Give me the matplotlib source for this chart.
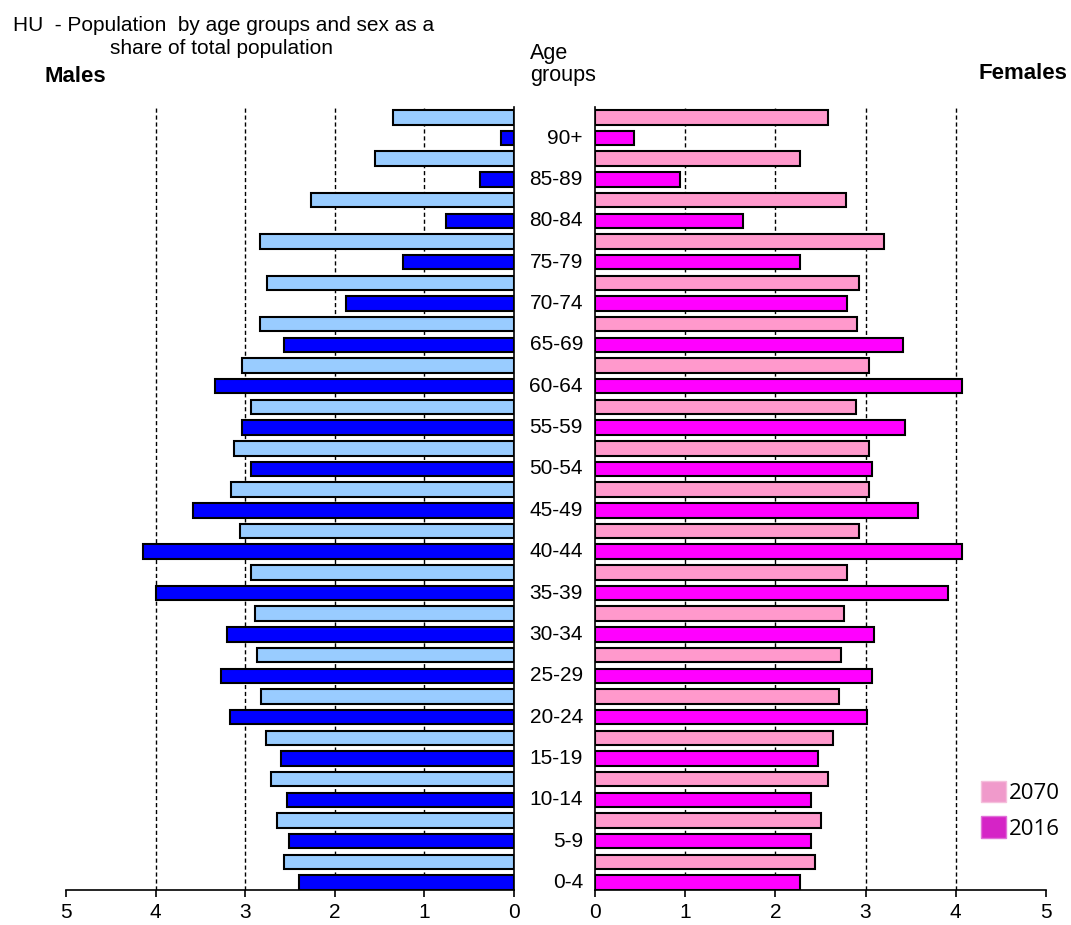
import numpy as np
import matplotlib.pyplot as plt
from matplotlib.patches import Patch

plt.rcParams['font.family'] = ['Liberation Sans', 'DejaVu Sans']

# age groups from bottom to top
ages = ["0-4", "5-9", "10-14", "15-19", "20-24", "25-29", "30-34", "35-39", "40-44",
        "45-49", "50-54", "55-59", "60-64", "65-69", "70-74", "75-79", "80-84", "85-89", "90+"]
males_2016 = [2.40, 2.51, 2.53, 2.60, 3.17, 3.27, 3.20, 3.99, 4.14,
              3.58, 2.93, 3.04, 3.34, 2.57, 1.87, 1.24, 0.76, 0.38, 0.15]
males_2070 = [2.57, 2.64, 2.71, 2.77, 2.82, 2.87, 2.89, 2.93, 3.06,
              3.16, 3.13, 2.93, 3.04, 2.84, 2.76, 2.84, 2.26, 1.55, 1.35]
females_2016 = [2.27, 2.40, 2.40, 2.47, 3.02, 3.07, 3.09, 3.91, 4.07,
                3.58, 3.07, 3.44, 4.07, 3.42, 2.80, 2.27, 1.64, 0.95, 0.44]
females_2070 = [2.44, 2.51, 2.58, 2.64, 2.71, 2.73, 2.76, 2.80, 2.93,
                3.04, 3.04, 2.89, 3.04, 2.91, 2.93, 3.20, 2.78, 2.27, 2.58]
xticks = [0, 1, 2, 3, 4, 5]

fig = plt.figure(figsize=(10.71, 9.25), dpi=100)
axl = fig.add_axes([0.0616, 0.0378, 0.4183, 0.8465])
axr = fig.add_axes([0.5553, 0.0378, 0.4214, 0.8465])

# each age group has two slots: 2016 below, 2070 above
y16 = np.arange(len(ages)) * 2
y70 = y16 + 1
h = 0.7

axl.barh(y70, males_2070, height=h, color='#99CCFF', edgecolor='black', linewidth=1.5, zorder=3)
axl.barh(y16, males_2016, height=h, color='#0000FF', edgecolor='black', linewidth=1.5, zorder=3)
axr.barh(y70, females_2070, height=h, color='#FF99CC', edgecolor='black', linewidth=1.5, zorder=3)
axr.barh(y16, females_2016, height=h, color='#FF00FF', edgecolor='black', linewidth=1.5, zorder=3)

for ax in (axl, axr):
    ax.set_xlim(0, 5)
    ax.set_ylim(-0.36, 37.5)
    ax.set_xticks(xticks)
    ax.set_xticklabels([str(t) for t in xticks], fontsize=15)
    ax.set_yticks([])
    ax.tick_params(axis='x', direction='out', length=5, width=1.2, pad=4)
    for t in xticks[1:5]:
        ax.axvline(t, color='black', linestyle=(0, (3, 2)), linewidth=1, zorder=1)
    ax.spines['top'].set_visible(False)
    for s in ax.spines.values():
        s.set_linewidth(1.2)

axl.invert_xaxis()
axl.spines['left'].set_visible(False)
axr.spines['right'].set_visible(False)

# age labels between the two halves, right aligned just left of the female axis
for y, a in zip(y16, ages):
    axr.text(-0.13, y, a, ha='right', va='center', fontsize=15, clip_on=False)

fig.text(0.012, 0.972, "HU  - Population  by age groups and sex as a", fontsize=15, va='center')
fig.text(0.207, 0.948, "share of total population", fontsize=15, ha='center', va='center')
fig.text(0.042, 0.917, "Males", fontsize=16, fontweight='bold', va='center')
fig.text(0.9963, 0.921, "Females", fontsize=16, fontweight='bold', ha='right', va='center')
fig.text(0.495, 0.930, "Age\ngroups", fontsize=15.5, va='center', linespacing=1.05)

handles = [Patch(facecolor='#F09ACB', edgecolor='#F5C0DC', label='2070'),
           Patch(facecolor='#D524C6', edgecolor='#E070D8', label='2016')]
fig.legend(handles=handles, loc='upper left', bbox_to_anchor=(0.906, 0.168),
           frameon=False, borderpad=0, handlelength=1.12, handleheight=1.12,
           handletextpad=0.12, labelspacing=0.55, prop={'family': 'Open Sans', 'size': 16})

fig.savefig('out.png', dpi=100)
